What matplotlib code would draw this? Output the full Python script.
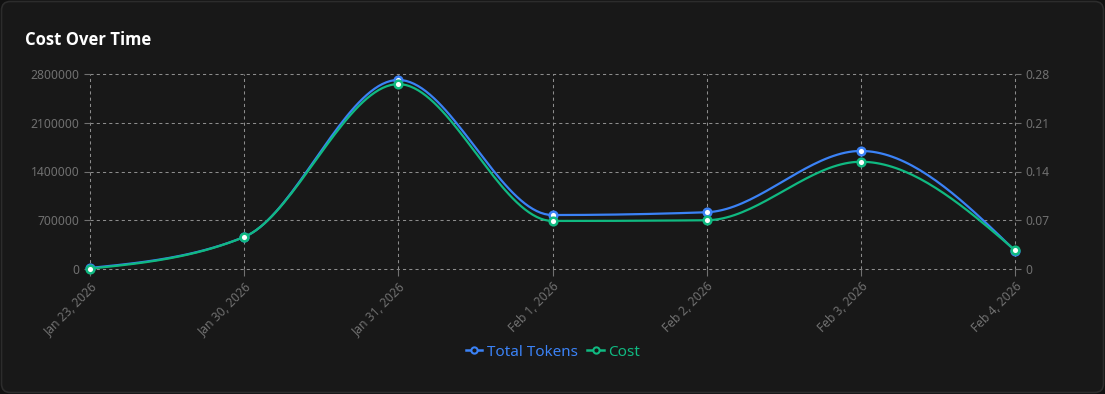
"""
Cost over time card: total tokens (left axis) and cost (right axis).
"""

import matplotlib
matplotlib.use("Agg")
import matplotlib.pyplot as plt
import numpy as np
from matplotlib.patches import FancyBboxPatch
from matplotlib.lines import Line2D

dates = ["Jan 23, 2026", "Jan 30, 2026", "Jan 31, 2026", "Feb 1, 2026",
         "Feb 2, 2026", "Feb 3, 2026", "Feb 4, 2026"]
total_tokens = [15000, 460000, 2715000, 775000, 815000, 1695000, 262000]
cost = [0.0005, 0.046, 0.2655, 0.069, 0.070, 0.154, 0.027]

token_ticks = [0, 700000, 1400000, 2100000, 2800000]
cost_ticks = [0, 0.07, 0.14, 0.21, 0.28]

blue = "#3b82f6"
green = "#10b981"
tick_col = "#707070"
grid_col = "#8c8c8c"
card_bg = "#181818"

plt.rcParams['font.family'] = ['Noto Sans', 'DejaVu Sans']


def monotone(y, n=40):
    # d3 curveMonotoneX on unit-spaced x
    y = np.asarray(y, dtype=float)
    x = np.arange(len(y), dtype=float)
    s = np.diff(y)
    t = np.zeros(len(y))
    for i in range(1, len(y) - 1):
        s0, s1 = s[i - 1], s[i]
        p = (s0 + s1) / 2
        t[i] = (np.sign(s0) + np.sign(s1)) * min(abs(s0), abs(s1), 0.5 * abs(p))
    t[0] = (3 * s[0] - t[1]) / 2
    t[-1] = (3 * s[-1] - t[-2]) / 2
    xs, ys = [], []
    for i in range(len(y) - 1):
        u = np.linspace(0, 1, n)
        p0, p3 = y[i], y[i + 1]
        p1, p2 = p0 + t[i] / 3, p3 - t[i + 1] / 3
        b = (1 - u) ** 3 * p0 + 3 * (1 - u) ** 2 * u * p1 + 3 * (1 - u) * u ** 2 * p2 + u ** 3 * p3
        xs.extend(x[i] + u)
        ys.extend(b)
    return np.array(xs), np.array(ys)


W, H = 1105, 394
fig = plt.figure(figsize=(W / 100, H / 100), dpi=100)
fig.patch.set_facecolor("#111111")
card = FancyBboxPatch((1.5 / W, 1.5 / H), (W - 3) / W, (H - 3) / H,
                      boxstyle="round,pad=0,rounding_size=0.008",
                      transform=fig.transFigure, facecolor=card_bg,
                      edgecolor="#2c2c2c", linewidth=1.2, mutation_aspect=W / H,
                      zorder=-10)
fig.add_artist(card)

fig.text(25 / W, 1 - 40 / H, "Cost Over Time", color="white", fontsize=12,
         fontweight="bold", family=["Open Sans", "DejaVu Sans"],
         va="center", ha="left")

ax = fig.add_axes([90 / W, 1 - 269 / H, 925 / W, 195 / H])
ax.set_facecolor("none")
ax2 = ax.twinx()
ax2.set_facecolor("none")

x = np.arange(len(dates))
ax.set_xlim(0, len(dates) - 1)
ax.set_ylim(0, 2800000)
ax2.set_ylim(0, 0.28)

for v in token_ticks:
    ax.axhline(v, color=grid_col, lw=0.75, ls=(0, (3, 3)), zorder=0, clip_on=False)
for xi in x:
    ax.axvline(xi, color=grid_col, lw=0.75, ls=(0, (3, 3)), zorder=0, clip_on=False)

xs, ys = monotone(total_tokens)
ax.plot(xs, ys, color=blue, lw=1.6, zorder=3, clip_on=False)
ax.plot(x, total_tokens, 'o', ms=5.5, mfc="white", mec=blue, mew=1.8,
        zorder=4, clip_on=False)

xs, ys = monotone(cost)
ax2.plot(xs, ys, color=green, lw=1.6, zorder=3, clip_on=False)
ax2.plot(x, cost, 'o', ms=5.5, mfc="white", mec=green, mew=1.8,
         zorder=4, clip_on=False)

for a in (ax, ax2):
    for sp in a.spines.values():
        sp.set_visible(False)
    a.tick_params(colors=tick_col, labelcolor=tick_col, labelsize=8.7,
                  length=4, width=0.8)

ax.set_yticks(token_ticks)
ax.set_yticklabels([str(v) for v in token_ticks])
ax2.set_yticks(cost_ticks)
ax2.set_yticklabels(["0", "0.07", "0.14", "0.21", "0.28"])
ax.set_xticks(x)
ax.set_xticklabels(dates, rotation=45, ha="right", rotation_mode="anchor")
ax.tick_params(axis="x", length=5, pad=3)

handles = [
    Line2D([], [], color=blue, lw=1.8, marker='o', ms=4.5, mfc=card_bg, mec=blue, mew=1.5),
    Line2D([], [], color=green, lw=1.8, marker='o', ms=4.5, mfc=card_bg, mec=green, mew=1.5),
]
leg = fig.legend(handles, ["Total Tokens", "Cost"], loc="center",
                 bbox_to_anchor=(553 / W, 1 - 352 / H), ncol=2, frameon=False,
                 fontsize=11, handlelength=1.1, handletextpad=0.3, columnspacing=0.6)
for txt, c in zip(leg.get_texts(), (blue, green)):
    txt.set_color(c)

fig.savefig("out.png", dpi=100, facecolor=fig.get_facecolor())
